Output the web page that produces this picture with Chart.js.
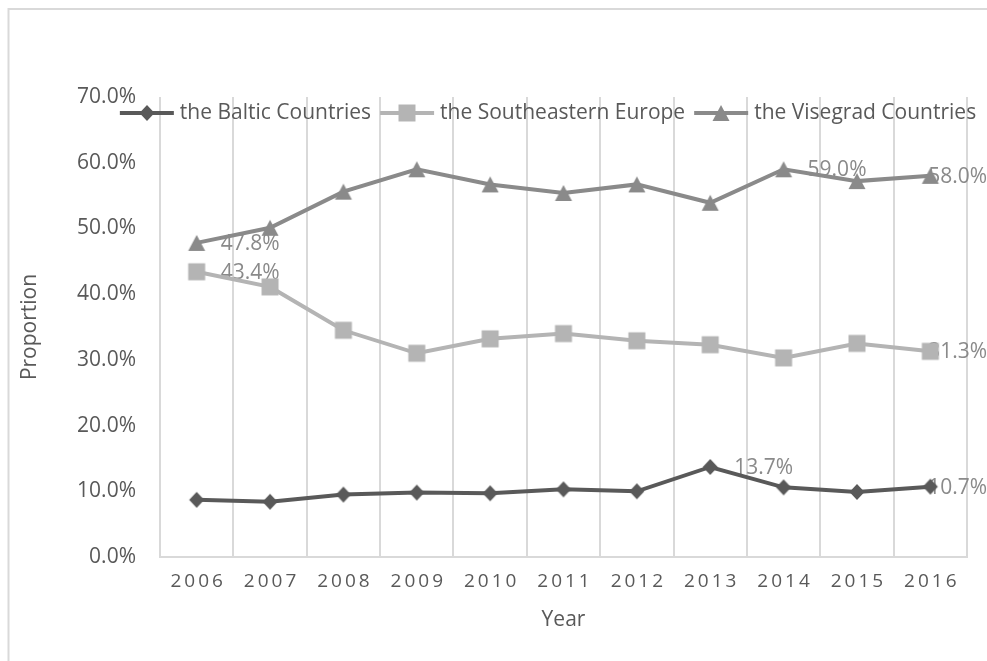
<!DOCTYPE html>
<html>
<head>
<meta charset="utf-8">
<script src="https://cdn.jsdelivr.net/npm/chart.js@4.4.1/dist/chart.umd.min.js"></script>
<style>
  html, body { margin: 0; padding: 0; background: #fff; }
</style>
</head>
<body>
<canvas id="chart" width="987" height="661"></canvas>
<script>
// values (percent)
const years = ['2006', '2007', '2008', '2009', '2010', '2011', '2012', '2013', '2014', '2015', '2016'];
const baltic = [8.7, 8.4, 9.5, 9.8, 9.7, 10.3, 10.0, 13.7, 10.6, 9.9, 10.7];
const southeastern = [43.4, 41.1, 34.5, 31.0, 33.2, 34.0, 32.9, 32.3, 30.3, 32.5, 31.3];
const visegrad = [47.8, 50.1, 55.6, 59.0, 56.7, 55.4, 56.7, 53.9, 59.0, 57.2, 58.0];
const seriesNames = ['the Baltic Countries', 'the Southeastern Europe', 'the Visegrad Countries'];
// which points carry a value label
const labelledPoints = [[7, 10], [0, 10], [0, 8, 10]];

const FONT = '"Open Sans", sans-serif';
const SIZE = 21;
const TEXT = '#595959';
const GRID = '#d9d9d9';

function makeMarker(shape, color) {
    const c = document.createElement('canvas');
    c.width = 20; c.height = 20;
    const g = c.getContext('2d');
    g.fillStyle = color;
    g.beginPath();
    if (shape === 'diamond') {
        g.moveTo(10, 2); g.lineTo(17.5, 10); g.lineTo(10, 18); g.lineTo(2.5, 10);
    } else if (shape === 'square') {
        g.rect(1.5, 1.5, 17, 17);
    } else {
        g.moveTo(10, 2); g.lineTo(18.5, 18); g.lineTo(1.5, 18);
    }
    g.closePath();
    g.fill();
    return c;
}

const colors = ['#595959', '#b4b4b4', '#8a8a8a'];
const markers = [makeMarker('diamond', colors[0]), makeMarker('square', colors[1]), makeMarker('triangle', colors[2])];

const extras = {
    id: 'extras',
    beforeDraw(chart) {
        const ctx = chart.ctx;
        ctx.save();
        ctx.fillStyle = '#fff';
        ctx.fillRect(0, 0, chart.width, chart.height);
        // outer chart frame (only top and left edges are in view)
        ctx.strokeStyle = GRID;
        ctx.lineWidth = 2;
        ctx.beginPath();
        ctx.moveTo(8.5, chart.height);
        ctx.lineTo(8.5, 9);
        ctx.lineTo(chart.width, 9);
        ctx.stroke();
        ctx.restore();
    },
    beforeDatasetsDraw(chart) {
        // value labels, under the markers
        const ctx = chart.ctx;
        ctx.save();
        ctx.font = SIZE + 'px ' + FONT;
        ctx.fillStyle = '#8a8a8a';
        ctx.textBaseline = 'middle';
        ctx.textAlign = 'left';
        labelledPoints.forEach((idx, d) => {
            const meta = chart.getDatasetMeta(d);
            const values = chart.data.datasets[d].data;
            idx.forEach((j) => {
                const pt = meta.data[j];
                const dx = j === values.length - 1 ? -2 : 24;
                ctx.fillText(values[j].toFixed(1) + '%', pt.x + dx, pt.y + 1);
            });
        });
        ctx.restore();
    },
    afterDraw(chart) {
        const ctx = chart.ctx;
        const xs = chart.scales.x;
        ctx.save();
        ctx.fillStyle = TEXT;
        ctx.textBaseline = 'middle';
        ctx.textAlign = 'left';

        // spaced-out year labels
        ctx.font = '19px ' + FONT;
        const spacing = 3;
        years.forEach((label, i) => {
            ctx.letterSpacing = '0px';
            const w = ctx.measureText(label).width + spacing * (label.length - 1);
            ctx.letterSpacing = spacing + 'px';
            ctx.fillText(label, xs.getPixelForTick(i) - w / 2, 582);
        });
        ctx.letterSpacing = '0px';

        // legend laid over the top of the plot
        ctx.font = SIZE + 'px ' + FONT;
        const sample = 54, gapText = 6, gapItem = 9;
        const widths = seriesNames.map((n) => ctx.measureText(n).width);
        const total = widths.reduce((a, b) => a + b, 0) + seriesNames.length * (sample + gapText) + gapItem * (seriesNames.length - 1);
        let x = 548 - total / 2;
        const y = 113;
        seriesNames.forEach((name, i) => {
            ctx.strokeStyle = colors[i];
            ctx.lineWidth = 4;
            ctx.beginPath();
            ctx.moveTo(x, y);
            ctx.lineTo(x + sample, y);
            ctx.stroke();
            ctx.drawImage(markers[i], Math.round(x + sample / 2 - 10), y - 10);
            x += sample + gapText;
            ctx.fillStyle = TEXT;
            ctx.fillText(name, x, y);
            x += widths[i] + gapItem;
        });
        ctx.restore();
    }
};

new Chart(document.getElementById('chart'), {
    type: 'line',
    data: {
        labels: years,
        datasets: [baltic, southeastern, visegrad].map((data, i) => ({
            label: seriesNames[i],
            data: data,
            borderColor: colors[i],
            backgroundColor: colors[i],
            borderWidth: 4,
            pointStyle: markers[i],
            pointRadius: 8,
            tension: 0,
            fill: false,
        })),
    },
    options: {
        responsive: false,
        animation: false,
        devicePixelRatio: 1,
        layout: { padding: { top: 97, right: 20, left: 0, bottom: 0 } },
        plugins: {
            legend: { display: false },
            tooltip: { enabled: false },
        },
        scales: {
            x: {
                offset: true,
                grid: { offset: true, color: GRID, lineWidth: 2, drawTicks: false },
                border: { display: true, color: GRID, width: 2 },
                ticks: { display: false },
                title: {
                    display: true, text: 'Year', color: TEXT,
                    font: { family: FONT, size: SIZE },
                    padding: { top: 0, bottom: 28 },
                },
                afterFit: (s) => { s.height = 104; },
            },
            y: {
                min: 0,
                max: 70,
                grid: { display: false, drawTicks: false },
                border: { display: false },
                ticks: {
                    stepSize: 10,
                    padding: 24,
                    color: TEXT,
                    font: { family: FONT, size: SIZE },
                    callback: (v) => v.toFixed(1) + '%',
                },
                title: {
                    display: true, text: 'Proportion', color: TEXT,
                    font: { family: FONT, size: SIZE },
                    padding: { top: 17, bottom: 0 },
                },
                afterFit: (s) => { s.width = 160; },
            },
        },
    },
    plugins: [extras],
});
</script>
</body>
</html>
